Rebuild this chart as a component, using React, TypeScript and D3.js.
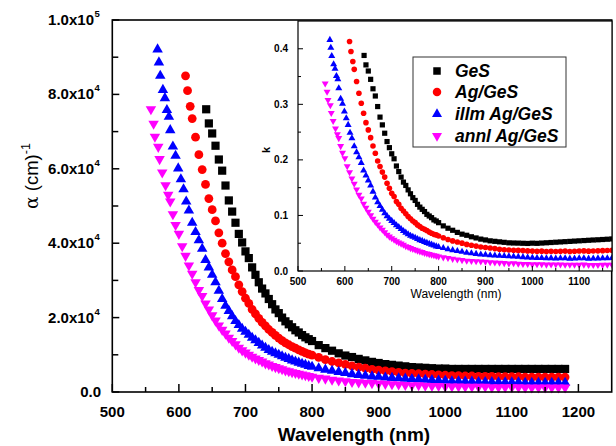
import React from 'react';
import * as d3 from 'd3';

// ---------- data ----------
// shared tail wavelengths (nm)
const tailWavelength = [810, 820, 830, 840, 850, 860, 870, 880, 890, 900, 910, 920, 930, 940, 950, 960, 970, 980, 990, 1000,
  1010, 1020, 1030, 1040, 1050, 1060, 1070, 1080, 1090, 1100, 1110, 1120, 1130, 1140, 1150, 1160, 1170, 1180];

// GeS
const gesHeadWavelength = [641, 645, 650, 655, 660, 665, 670, 675, 680, 685, 690, 695, 700, 705, 710, 715, 720, 725, 730, 735,
  740, 745, 750, 755, 760, 765, 770, 775, 780, 785, 790, 795, 800];
const gesAlpha = [7.60, 7.22, 6.95, 6.62, 6.25, 5.95, 5.55, 5.15, 4.85, 4.55, 4.25, 4.02, 3.78, 3.60, 3.35, 3.15, 2.95, 2.78, 2.65, 2.50,
  2.36, 2.22, 2.12, 2.00, 1.90, 1.82, 1.74, 1.66, 1.60, 1.53, 1.47, 1.42, 1.37,
  1.26, 1.18, 1.11, 1.04, 0.98, 0.94, 0.89, 0.85, 0.81, 0.78, 0.75, 0.73, 0.71, 0.69, 0.67, 0.66, 0.65, 0.64, 0.63, 0.63,
  0.62, 0.62, 0.62, 0.62, 0.62, 0.62, 0.62, 0.62, 0.62, 0.62, 0.62, 0.62, 0.62, 0.62, 0.62, 0.62, 0.62, 0.62];
const gesK = [0.388, 0.371, 0.360, 0.345, 0.328, 0.315, 0.296, 0.277, 0.263, 0.248, 0.233, 0.222, 0.211, 0.202, 0.189, 0.179, 0.169, 0.160, 0.154, 0.146,
  0.139, 0.132, 0.127, 0.120, 0.115, 0.111, 0.107, 0.102, 0.099, 0.096, 0.092, 0.090, 0.087,
  0.0812, 0.0770, 0.0733, 0.0695, 0.0663, 0.0643, 0.0616, 0.0595, 0.0574, 0.0559, 0.0543, 0.0534, 0.0525, 0.0516, 0.0507, 0.0504, 0.0502, 0.0499, 0.0496, 0.0501,
  0.0498, 0.0503, 0.0508, 0.0513, 0.0518, 0.0523, 0.0528, 0.0533, 0.0538, 0.0543, 0.0548, 0.0553, 0.0558, 0.0562, 0.0567, 0.0572, 0.0577, 0.0582];

// Ag/GeS
const agHeadWavelength = [610, 613, 617, 620, 625, 630, 635, 640, 645, 650, 655, 660, 665, 670, 675, 680, 685, 690, 695, 700,
  705, 710, 715, 720, 725, 730, 735, 740, 745, 750, 755, 760, 765, 770, 775, 780, 785, 790, 795, 800];
const agAlpha = [8.50, 8.10, 7.68, 7.35, 6.85, 6.38, 5.98, 5.58, 5.20, 4.90, 4.60, 4.28, 4.00, 3.72, 3.50, 3.28, 3.10, 2.88, 2.70, 2.52,
  2.38, 2.22, 2.10, 1.98, 1.87, 1.78, 1.68, 1.60, 1.52, 1.45, 1.38, 1.32, 1.27, 1.22, 1.18, 1.13, 1.09, 1.05, 1.02, 0.99,
  0.93, 0.87, 0.82, 0.78, 0.74, 0.70, 0.67, 0.64, 0.61, 0.59, 0.57, 0.55, 0.53, 0.51, 0.50, 0.49, 0.48, 0.47, 0.46, 0.45,
  0.44, 0.44, 0.43, 0.43, 0.42, 0.42, 0.42, 0.41, 0.41, 0.41, 0.41, 0.40, 0.40, 0.40, 0.40, 0.40, 0.40, 0.40];
const agK = [0.413, 0.395, 0.377, 0.363, 0.341, 0.320, 0.302, 0.284, 0.267, 0.254, 0.240, 0.225, 0.212, 0.198, 0.188, 0.178, 0.169, 0.158, 0.149, 0.140,
  0.134, 0.125, 0.120, 0.113, 0.108, 0.103, 0.098, 0.094, 0.090, 0.087, 0.083, 0.080, 0.077, 0.075, 0.073, 0.070, 0.068, 0.066, 0.065, 0.063,
  0.0599, 0.0568, 0.0542, 0.0521, 0.0501, 0.0479, 0.0464, 0.0448, 0.0432, 0.0423, 0.0413, 0.0403, 0.0392, 0.0382, 0.0378, 0.0374, 0.0371, 0.0367, 0.0362, 0.0358,
  0.0354, 0.0357, 0.0352, 0.0356, 0.0351, 0.0354, 0.0358, 0.0352, 0.0356, 0.0359, 0.0362, 0.0357, 0.0360, 0.0363, 0.0366, 0.0369, 0.0372, 0.0376];

// illm Ag/GeS
const illmHeadWavelength = [568, 570, 572, 576, 579, 582, 585, 587, 591, 595, 599, 603, 607, 611, 615, 620, 625, 630, 635, 640,
  645, 650, 655, 660, 665, 670, 675, 680, 685, 690, 695, 700, 705, 710, 715, 720, 725, 730, 735, 740,
  745, 750, 755, 760, 765, 770, 775, 780, 785, 790, 795, 800];
const illmAlpha = [9.21, 8.86, 8.50, 8.12, 7.90, 7.58, 7.40, 7.04, 6.60, 6.35, 6.01, 5.72, 5.45, 5.12, 4.88,
  4.55, 4.30, 4.08, 3.85, 3.55, 3.35, 3.15, 2.95, 2.72, 2.50, 2.32, 2.18, 2.04, 1.91, 1.80, 1.70, 1.62, 1.54, 1.46, 1.39,
  1.32, 1.25, 1.19, 1.13, 1.08, 1.04, 1.00, 0.96, 0.92, 0.89, 0.85, 0.82, 0.79, 0.76, 0.73, 0.70, 0.68,
  0.64, 0.60, 0.57, 0.54, 0.51, 0.48, 0.46, 0.44, 0.42, 0.41, 0.39, 0.38, 0.37, 0.36, 0.35, 0.34, 0.33, 0.32, 0.31, 0.30,
  0.29, 0.29, 0.28, 0.28, 0.27, 0.27, 0.27, 0.26, 0.26, 0.26, 0.26, 0.25, 0.25, 0.25, 0.25, 0.25, 0.25, 0.25];
const illmK = [0.416, 0.402, 0.387, 0.372, 0.364, 0.351, 0.345, 0.329, 0.310, 0.301, 0.287, 0.275, 0.263, 0.249, 0.239,
  0.2245, 0.2139, 0.2046, 0.1946, 0.1808, 0.1720, 0.1629, 0.1538, 0.1429, 0.1323, 0.1237, 0.1171, 0.1104, 0.1041, 0.0988, 0.0940, 0.0902, 0.0864, 0.0825, 0.0791,
  0.0756, 0.0721, 0.0691, 0.0661, 0.0636, 0.0617, 0.0597, 0.0577, 0.0556, 0.0542, 0.0521, 0.0506, 0.0490, 0.0475, 0.0459, 0.0443, 0.0433,
  0.0413, 0.0392, 0.0376, 0.0361, 0.0345, 0.0329, 0.0318, 0.0308, 0.0297, 0.0294, 0.0282, 0.0278, 0.0274, 0.0269, 0.0265, 0.0260, 0.0255, 0.0250, 0.0244, 0.0239,
  0.0233, 0.0235, 0.0230, 0.0232, 0.0226, 0.0228, 0.0230, 0.0223, 0.0226, 0.0228, 0.0230, 0.0223, 0.0225, 0.0227, 0.0229, 0.0231, 0.0233, 0.0235];

// annl Ag/GeS
const annlHeadWavelength = [558, 562, 564, 569, 571, 575, 580, 584, 587, 591, 595, 600, 605, 610, 615, 620, 625, 630, 635, 640,
  645, 650, 655, 660, 665, 670, 675, 680, 685, 690, 695, 700, 705, 710, 715, 720, 725, 730, 735, 740,
  745, 750, 755, 760, 765, 770, 775, 780, 785, 790, 795, 800];
const annlAlpha = [7.60, 7.21, 6.86, 6.59, 6.26, 5.90, 5.56, 5.30, 5.12, 4.78, 4.49,
  4.25, 3.92, 3.66, 3.40, 3.18, 2.95, 2.74, 2.58, 2.38, 2.22, 2.06, 1.92, 1.79, 1.67, 1.57, 1.46, 1.37, 1.28, 1.19, 1.12,
  1.06, 1.00, 0.95, 0.90, 0.86, 0.82, 0.77, 0.74, 0.70, 0.67, 0.64, 0.61, 0.58, 0.56, 0.53, 0.51, 0.49, 0.47, 0.45, 0.43, 0.41,
  0.38, 0.36, 0.33, 0.31, 0.29, 0.27, 0.26, 0.25, 0.24, 0.23, 0.22, 0.21, 0.20, 0.19, 0.18, 0.18, 0.17, 0.16, 0.16, 0.15,
  0.15, 0.15, 0.14, 0.14, 0.14, 0.14, 0.13, 0.13, 0.13, 0.13, 0.13, 0.12, 0.12, 0.12, 0.12, 0.12, 0.12, 0.12];
const annlK = [0.3375, 0.3225, 0.3079, 0.2984, 0.2845, 0.2700, 0.2566, 0.2463, 0.2392, 0.2248, 0.2126,
  0.2029, 0.1887, 0.1777, 0.1664, 0.1569, 0.1467, 0.1374, 0.1304, 0.1212, 0.1140, 0.1066, 0.1001, 0.0940, 0.0884, 0.0837, 0.0784, 0.0741, 0.0698, 0.0653, 0.0619,
  0.0590, 0.0561, 0.0537, 0.0512, 0.0493, 0.0473, 0.0447, 0.0433, 0.0412, 0.0397, 0.0382, 0.0367, 0.0351, 0.0341, 0.0325, 0.0315, 0.0304, 0.0294, 0.0283, 0.0272, 0.0261,
  0.0245, 0.0235, 0.0218, 0.0207, 0.0196, 0.0185, 0.0180, 0.0175, 0.0170, 0.0165, 0.0159, 0.0154, 0.0148, 0.0142, 0.0136, 0.0138, 0.0131, 0.0125, 0.0126, 0.0119,
  0.0121, 0.0122, 0.0115, 0.0116, 0.0117, 0.0118, 0.0111, 0.0112, 0.0113, 0.0114, 0.0115, 0.0107, 0.0108, 0.0109, 0.0110, 0.0111, 0.0112, 0.0113];

const seriesNames = ['GeS', 'Ag/GeS', 'illm Ag/GeS', 'annl Ag/GeS'];
const seriesColors = ['#000000', '#ff0000', '#0000ff', '#ff00ff'];

const mainXTicks = [500, 600, 700, 800, 900, 1000, 1100, 1200];
const mainYTicks = [0, 2, 4, 6, 8, 10]; // in units of 10^4 cm^-1
const insetXTicks = [500, 600, 700, 800, 900, 1000, 1100];
const insetYTicks = [0, 0.1, 0.2, 0.3, 0.4];

// ---------- component ----------
const FONT = 'Arial, "Liberation Sans", sans-serif';

type Kind = 'square' | 'circle' | 'up' | 'down';
const kinds: Kind[] = ['square', 'circle', 'up', 'down'];

function symbolPath(kind: Kind, size: number): string {
  const gen = d3.symbol();
  if (kind === 'square') return gen.type(d3.symbolSquare).size(size * size)() as string;
  if (kind === 'circle') return gen.type(d3.symbolCircle).size(Math.PI * size * size / 4)() as string;
  return gen.type(d3.symbolTriangle).size((Math.sqrt(3) / 4) * size * size)() as string;
}

function Marker({ kind, cx, cy, size, color }: { kind: Kind; cx: number; cy: number; size: number; color: string }) {
  const d = symbolPath(kind, size);
  const rot = kind === 'down' ? ' rotate(180)' : '';
  return <path d={d} transform={`translate(${cx},${cy})${rot}`} fill={color} />;
}

export default function App() {
  const W = 616, H = 446;
  const x = d3.scaleLinear().domain([500, 1250]).range([112.3, 611.7]);
  const y = d3.scaleLinear().domain([0, 10]).range([392, 20]);
  const ix = d3.scaleLinear().domain([500, 1170]).range([298, 612]);
  const iy = d3.scaleLinear().domain([0, 0.45]).range([271, 21]);

  const series = [
    { wl: [...gesHeadWavelength, ...tailWavelength], a: gesAlpha, k: gesK },
    { wl: [...agHeadWavelength, ...tailWavelength], a: agAlpha, k: agK },
    { wl: [...illmHeadWavelength, ...tailWavelength], a: illmAlpha, k: illmK },
    { wl: [...annlHeadWavelength, ...tailWavelength], a: annlAlpha, k: annlK },
  ];

  const mainSizes = [8.2, 8.8, 10.5, 10.5];
  const insetSizes = [5.2, 5.6, 7, 7];
  const legendSizes = [7.5, 8.5, 10, 10];

  const xMinor = d3.range(550, 1250, 100);
  const yMinor = d3.range(1, 10, 2);
  const ixMinor = d3.range(550, 1170, 100);
  const iyMinor = d3.range(0.05, 0.45, 0.1);

  const legendRows = [71, 92, 114, 136];

  return (
    <svg width={W} height={H} style={{ position: 'absolute', left: 0, top: 0, background: '#fff' }} fontFamily={FONT}>
      <rect x={0} y={0} width={W} height={H} fill="#fff" />
      <defs>
        <clipPath id="insetClip">
          <rect x={ix(500)} y={iy(0.45)} width={ix(1170) - ix(500)} height={iy(0) - iy(0.45)} />
        </clipPath>
      </defs>

      {/* main data */}
      {series.map((s, si) => (
        <g key={si}>
          {s.wl.map((w, i) => (
            <Marker key={i} kind={kinds[si]} cx={x(w)} cy={y(s.a[i])} size={mainSizes[si]} color={seriesColors[si]} />
          ))}
        </g>
      ))}

      {/* main frame */}
      <rect x={x(500)} y={y(10)} width={x(1250) - x(500)} height={y(0) - y(10)} fill="none" stroke="#000" strokeWidth={1.6} />

      {/* main x ticks */}
      {mainXTicks.map(t => (
        <g key={t}>
          <line x1={x(t)} x2={x(t)} y1={y(0)} y2={y(0) - 8} stroke="#000" strokeWidth={1.5} />
          <text x={x(t)} y={417} textAnchor="middle" fontSize={15} fontWeight="bold">{t}</text>
        </g>
      ))}
      {xMinor.map(t => (
        <line key={t} x1={x(t)} x2={x(t)} y1={y(0)} y2={y(0) - 5} stroke="#000" strokeWidth={1.5} />
      ))}

      {/* main y ticks */}
      {mainYTicks.map(t => {
        const exp = t >= 10 ? 5 : 4;
        const mant = t >= 10 ? t / 10 : t;
        return (
          <g key={t}>
            <line x1={x(500)} x2={x(500) + 7} y1={y(t)} y2={y(t)} stroke="#000" strokeWidth={1.5} />
            <text x={t === 0 ? 101 : 94} y={y(t) + 5} textAnchor="end" fontSize={15} fontWeight="bold">
              {t === 0 ? '0.0' : `${mant.toFixed(1)}x10`}
            </text>
            {t !== 0 && (
              <text x={94.5} y={y(t) - 3} fontSize={9.5} fontWeight="bold">{exp}</text>
            )}
          </g>
        );
      })}
      {yMinor.map(t => (
        <line key={t} x1={x(500)} x2={x(500) + 6} y1={y(t)} y2={y(t)} stroke="#000" strokeWidth={1.5} />
      ))}

      {/* main axis titles */}
      <text x={354} y={441} textAnchor="middle" fontSize={19} fontWeight="bold">Wavelength (nm)</text>
      <text transform="translate(38,176) rotate(-90)" textAnchor="middle" fontSize={18.5}>
        <tspan fontFamily="'DejaVu Serif', serif">α</tspan>
        <tspan> (cm)</tspan>
        <tspan dy={-8} fontSize={12.5}>-1</tspan>
      </text>

      {/* inset */}
      <rect x={ix(500)} y={iy(0.45)} width={ix(1170) - ix(500)} height={iy(0) - iy(0.45)} fill="#fff" />
      <g clipPath="url(#insetClip)">
        {series.map((s, si) => (
          <g key={si}>
            {s.wl.map((w, i) => (
              <Marker key={i} kind={kinds[si]} cx={ix(w)} cy={iy(s.k[i])} size={insetSizes[si]} color={seriesColors[si]} />
            ))}
          </g>
        ))}
      </g>
      <rect x={ix(500)} y={iy(0.45)} width={ix(1170) - ix(500)} height={iy(0) - iy(0.45)} fill="none" stroke="#000" strokeWidth={1.2} />
      {insetXTicks.map(t => (
        <g key={t}>
          <line x1={ix(t)} x2={ix(t)} y1={iy(0)} y2={iy(0) - 5} stroke="#000" strokeWidth={1} />
          <text x={ix(t)} y={285} textAnchor="middle" fontSize={10} fontWeight="bold">{t}</text>
        </g>
      ))}
      {ixMinor.map(t => (
        <line key={t} x1={ix(t)} x2={ix(t)} y1={iy(0)} y2={iy(0) - 3} stroke="#000" strokeWidth={1} />
      ))}
      {insetYTicks.map(t => (
        <g key={t}>
          <line x1={ix(500)} x2={ix(500) + 5} y1={iy(t)} y2={iy(t)} stroke="#000" strokeWidth={1} />
          <text x={288} y={iy(t) + 3.5} textAnchor="end" fontSize={10} fontWeight="bold">{t.toFixed(1)}</text>
        </g>
      ))}
      {iyMinor.map(t => (
        <line key={t} x1={ix(500)} x2={ix(500) + 3} y1={iy(t)} y2={iy(t)} stroke="#000" strokeWidth={1} />
      ))}
      <text x={456} y={298} textAnchor="middle" fontSize={12}>Wavelength (nm)</text>
      <text transform="translate(270,150) rotate(-90)" textAnchor="middle" fontSize={11} fontWeight="bold">k</text>

      {/* legend */}
      <rect x={413} y={57} width={153} height={90} fill="#fff" stroke="#333" strokeWidth={1} />
      {seriesNames.map((n, i) => (
        <g key={n}>
          <Marker kind={kinds[i]} cx={437} cy={legendRows[i]} size={legendSizes[i]} color={seriesColors[i]} />
          <text x={455} y={legendRows[i] + 6} fontSize={17.5} fontWeight="bold" fontStyle="italic">{n}</text>
        </g>
      ))}
    </svg>
  );
}
